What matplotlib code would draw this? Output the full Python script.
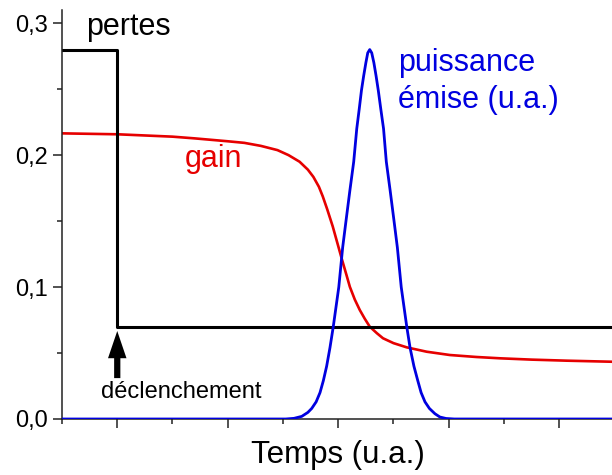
import matplotlib
matplotlib.use("Agg")
import matplotlib.pyplot as plt

plt.rcParams["font.family"] = ["Liberation Sans", "DejaVu Sans"]

# temps en unités arbitraires (1 graduation mineure = 1)
pertes_t = [0.0, 1.0, 1.0, 9.955]
pertes_v = [0.28, 0.28, 0.07, 0.07]

gain_t = [0.0, 1.0, 2.0, 2.4, 3.0, 3.3, 3.6, 3.9, 4.1, 4.3, 4.45, 4.55, 4.65,
          4.72, 4.80, 4.90, 5.00, 5.07, 5.15, 5.21, 5.30, 5.39, 5.48, 5.57,
          5.70, 5.81, 6.0, 6.24, 6.6, 7.02, 7.5, 7.93, 8.5, 9.14, 9.955]
gain_v = [0.2165, 0.2158, 0.2140, 0.2127, 0.2105, 0.2093, 0.2070, 0.2038,
          0.2000, 0.1950, 0.1890, 0.1835, 0.1760, 0.1687, 0.1590, 0.1460,
          0.1310, 0.1205, 0.1090, 0.1002, 0.0905, 0.0826, 0.0760, 0.0700,
          0.0650, 0.0612, 0.0575, 0.0543, 0.0510, 0.0485, 0.0470, 0.0460,
          0.0450, 0.0442, 0.0434]

puiss_t = [0.0, 4.05, 4.20, 4.34, 4.45, 4.52, 4.60, 4.67, 4.73, 4.79, 4.85,
           4.91, 4.96, 5.01, 5.08, 5.14, 5.21, 5.28, 5.335, 5.38, 5.42, 5.46,
           5.50, 5.534, 5.57, 5.606, 5.645, 5.685, 5.725, 5.77, 5.82, 5.87,
           5.94, 6.01, 6.07, 6.14, 6.19, 6.24, 6.30, 6.37, 6.44, 6.50, 6.57,
           6.65, 6.75, 6.84, 6.95, 7.10, 9.955]
puiss_v = [0.0, 0.0, 0.0005, 0.002, 0.005, 0.008, 0.013, 0.02, 0.029, 0.04,
           0.054, 0.07, 0.085, 0.10, 0.13, 0.15, 0.173, 0.195, 0.22, 0.235,
           0.249, 0.26, 0.27, 0.2775, 0.28, 0.2775, 0.27, 0.26, 0.249, 0.235,
           0.22, 0.195, 0.173, 0.15, 0.13, 0.10, 0.085, 0.07, 0.054, 0.04,
           0.029, 0.02, 0.013, 0.008, 0.004, 0.0015, 0.0004, 0.0, 0.0]

yticks = [0.0, 0.1, 0.2, 0.3]
ytick_labels = ["0,0", "0,1", "0,2", "0,3"]

ROUGE = "#e60000"
BLEU = "#0000e0"

fig = plt.figure(figsize=(6.12, 4.75), dpi=100)
ax = fig.add_axes([62 / 612, 56 / 475, 550 / 612, 409 / 475])

ax.plot(puiss_t, puiss_v, color=BLEU, lw=2.0, solid_joinstyle="round", zorder=3)
ax.plot(gain_t, gain_v, color=ROUGE, lw=1.9, zorder=2)
ax.plot(pertes_t, pertes_v, color="black", lw=2.2, zorder=2)

ax.set_xlim(0, 9.955)
ax.set_ylim(0, 0.31)
ax.set_xticks([1, 3, 5, 7, 9])
ax.set_xticks([0, 2, 4, 6, 8], minor=True)
ax.set_xticklabels([])
ax.set_yticks(yticks)
ax.set_yticklabels(ytick_labels)
ax.set_yticks([0.05, 0.15, 0.25], minor=True)

for side in ["top", "right"]:
    ax.spines[side].set_visible(False)
for side in ["left", "bottom"]:
    ax.spines[side].set_linewidth(1.1)
    ax.spines[side].set_color("#222222")
ax.tick_params(which="major", direction="out", length=6.2, width=1.1,
               labelsize=17, pad=4, color="#222222")
ax.tick_params(which="minor", direction="out", length=3.4, width=1.1,
               color="#222222")

ax.text(0.43, 0.291, "pertes", fontsize=22, color="black", va="baseline")
ax.text(2.23, 0.191, "gain", fontsize=22, color=ROUGE, va="baseline")
ax.text(6.08, 0.264, "puissance", fontsize=22, color=BLEU, va="baseline")
ax.text(6.08, 0.2356, "émise (u.a.)", fontsize=22, color=BLEU, va="baseline")
ax.text(2.16, 0.0159, "déclenchement", fontsize=17, ha="center", va="baseline")

ax.annotate("", xy=(1.0, 0.0667), xytext=(1.0, 0.031),
            arrowprops=dict(arrowstyle="simple,head_length=1.4,head_width=0.95,tail_width=0.32",
                            lw=0, color="black", mutation_scale=14,
                            shrinkA=0, shrinkB=0))

fig.text(337.5 / 612, 1 - 463 / 475, "Temps (u.a.)", fontsize=22.5,
         ha="center", va="baseline")

fig.savefig("out.png", dpi=100)
